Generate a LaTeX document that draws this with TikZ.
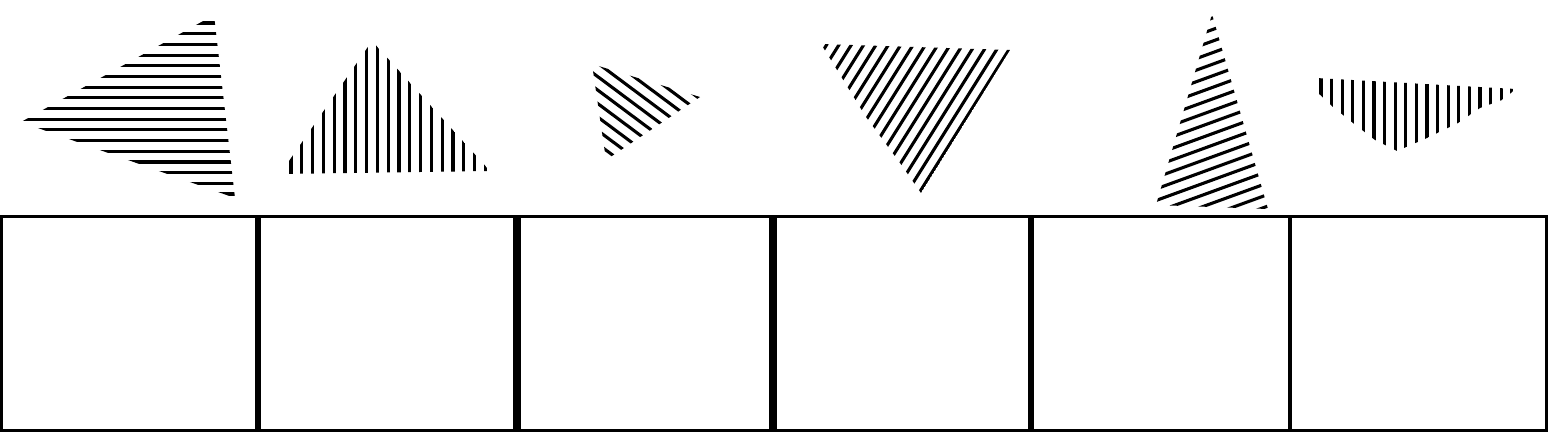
\documentclass[tikz,border=0pt]{standalone}
\tikzset{
  hatchline/.style={line width=3.1pt,line cap=round,black},
  boxframe/.style={line width=3pt,black},
}
\newcommand\hatchlines[6]{% angle, first offset, step, last index, centre x, centre y
  \pgfmathsetmacro\hA{#1}%
  \pgfmathsetmacro\hC{#5*cos(\hA)+#6*sin(\hA)}%
  \foreach \k in {0,...,#4}{%
    \pgfmathsetmacro\hO{#2+\k*#3}%
    \draw[hatchline] ({-\hO*sin(\hA)+(\hC-250)*cos(\hA)},{\hO*cos(\hA)+(\hC-250)*sin(\hA)})
      -- ({-\hO*sin(\hA)+(\hC+250)*cos(\hA)},{\hO*cos(\hA)+(\hC+250)*sin(\hA)});
  }}
\begin{document}
\begin{tikzpicture}[x=1pt,y=-1pt]
\useasboundingbox (0,0) rectangle (1548,432);
\fill[white] (0,0) rectangle (1548,432);
% triangle 1: horizontal hatching
\begin{scope}
  \clip (214,15) -- (21,122) -- (235,198) -- cycle;
  \hatchlines{0}{23}{10.69}{16}{130}{110}
\end{scope}
% triangle 2: vertical hatching
\begin{scope}
  \clip (280,174) -- (372,41) -- (490,171) -- cycle;
  \hatchlines{90}{-291}{-10.8}{18}{380}{110}
\end{scope}
% triangle 3: hatching down to the right
\begin{scope}
  \clip (592,64) -- (700,97) -- (606,160) -- cycle;
  \hatchlines{36.7}{-339}{10.8}{9}{633}{107}
\end{scope}
% triangle 4: steep hatching
\begin{scope}
  \clip (821,44) -- (1010,50) -- (921,193) -- (900,163) -- (866,117) -- cycle;
  \hatchlines{-57.9}{724.1}{10.47}{15}{918}{95}
\end{scope}
% triangle 5: shallow rising hatching
\begin{scope}
  \clip (1212,14) -- (1156,205) -- (1268,209) -- cycle;
  \hatchlines{-20}{431.6}{10.87}{18}{1212}{140}
\end{scope}
% triangle 6: vertical hatching
\begin{scope}
  \clip (1316,78) -- (1316,91) -- (1333,107) -- (1353,123) -- (1375,140) -- (1397,151)
        -- (1427,138) -- (1458,123) -- (1480,108) -- (1502,100) -- (1516,89) -- cycle;
  \hatchlines{90}{-1321}{-10.6}{18}{1410}{110}
\end{scope}
% row of six boxes
\coordinate (rowTL) at (1,216);
\coordinate (rowBR) at (1546.5,430);
\draw[boxframe] (rowTL) rectangle (rowBR);
\draw[line width=6pt] (258,216) -- (258,430);
\draw[line width=8pt] (516.5,216) -- (516.5,430);
\draw[line width=8pt] (772.5,216) -- (772.5,430);
\draw[line width=5.5pt] (1031,216) -- (1031,430);
\draw[line width=4.5pt] (1290,216) -- (1290,430);
\end{tikzpicture}
\end{document}
